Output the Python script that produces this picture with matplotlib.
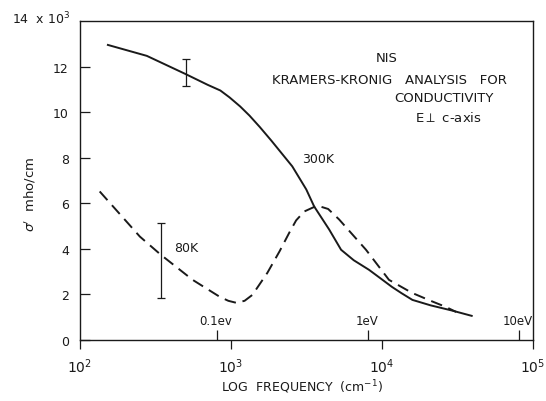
import numpy as np
import matplotlib
matplotlib.use('Agg')
import matplotlib.pyplot as plt
from matplotlib.ticker import FixedLocator, NullFormatter

# 300 K curve (solid), frequency in cm^-1, sigma in 10^3 mho/cm
freq_300 = [153, 277, 501, 700, 850, 977, 1150, 1325, 1550, 1850, 2546, 3150, 3554, 4467, 5358,
            6500, 8203, 9800, 11640, 13500, 15900, 21000, 28800, 39270]
sig_300 = [12.95, 12.47, 11.67, 11.2, 10.95, 10.65, 10.25, 9.85, 9.35, 8.75, 7.62, 6.61, 5.86,
           4.85, 3.96, 3.5, 3.08, 2.7, 2.33, 2.05, 1.76, 1.52, 1.3, 1.06]

# 80 K curve (dashed)
freq_80 = [135, 249, 343, 557, 840, 960, 1087, 1230, 1386, 1742, 2100, 2432, 2700, 3055, 3724,
           4400, 5200, 7834, 11120, 15780, 21000, 26500, 31000]
sig_80 = [6.52, 4.54, 3.74, 2.64, 1.9, 1.72, 1.63, 1.72, 1.98, 2.95, 3.9, 4.71, 5.25, 5.64, 5.9,
          5.75, 5.29, 3.96, 2.64, 2.07, 1.72, 1.45, 1.23]

# error bars
err_x = [501, 343]
err_y = [11.74, 3.5]
err_d = [0.59, 1.65]

ev_vals = [0.1, 1, 10]
ev_labels = ['0.1ev', '1eV', '10eV']
cm_per_ev = 8065.5

ink = '#1a1a1a'
plt.rcParams['font.family'] = ['DejaVu Sans']

fig = plt.figure(figsize=(5.46, 4.02), dpi=100)
ax = fig.add_axes([80 / 546, 1 - 341 / 402, 453 / 546, 319 / 402])

ax.plot(freq_300, sig_300, color=ink, lw=1.4)
ax.plot(freq_80, sig_80, color=ink, lw=1.4, dashes=(6, 3.5))
ax.errorbar(err_x, err_y, yerr=err_d, fmt='none', ecolor=ink, elinewidth=0.9, capsize=3, capthick=0.9)

ax.set_xscale('log')
ax.set_xlim(100, 1e5)
ax.set_ylim(0, 14)

for s in ax.spines.values():
    s.set_color(ink)
    s.set_linewidth(1.0)

ax.xaxis.set_major_locator(FixedLocator([1e2, 1e3, 1e4, 1e5]))
ax.set_xticklabels(['$10^2$', '$10^3$', '$10^4$', '$10^5$'])
ev_pos = [v * cm_per_ev for v in ev_vals]
ax.xaxis.set_minor_locator(FixedLocator(ev_pos))
ax.xaxis.set_minor_formatter(NullFormatter())
ax.tick_params(axis='x', which='major', direction='out', length=6.5, width=0.9,
               color=ink, labelcolor=ink, labelsize=10, pad=5)
ax.tick_params(axis='x', which='minor', direction='in', length=7, width=0.9, color=ink)

ax.set_yticks([0, 2, 4, 6, 8, 10, 12])
ax.tick_params(axis='y', direction='in', length=7.5, width=0.9, color=ink,
               labelcolor=ink, labelsize=9, pad=8)

for p, lab in zip(ev_pos, ev_labels):
    ax.text(p * 0.98, 0.55, lab, ha='center', va='bottom', fontsize=8.5, color=ink)

fig.text(70 / 546, 1 - 19 / 402, '14  x $10^3$', ha='right', va='center', fontsize=9, color=ink)

ax.set_ylabel("$\\sigma'$  mho/cm", fontsize=9.5, color=ink)
ax.yaxis.set_label_coords(-0.092, 0.46)
ax.set_xlabel('LOG  FREQUENCY  (cm$^{-1}$)', fontsize=9, color=ink, va='center')
ax.xaxis.set_label_coords(0.49, -0.145)

fig.text(318 / 546, 1 - 160 / 402, '300K', ha='center', va='center', fontsize=9, color=ink)
fig.text(186 / 546, 1 - 249 / 402, '80K', ha='center', va='center', fontsize=9, color=ink)

fig.text(387 / 546, 1 - 58 / 402, 'NIS', ha='center', va='center', fontsize=9.5, color=ink)
fig.text(389 / 546, 1 - 80 / 402, 'KRAMERS-KRONIG   ANALYSIS   FOR', ha='center', va='center',
         fontsize=9.5, color=ink)
fig.text(444 / 546, 1 - 99 / 402, 'CONDUCTIVITY', ha='center', va='center', fontsize=9.5, color=ink)
fig.text(448 / 546, 1 - 118 / 402, 'E$\\perp$ c-axis', ha='center', va='center', fontsize=9.5, color=ink)

fig.savefig('out.png', dpi=100)
